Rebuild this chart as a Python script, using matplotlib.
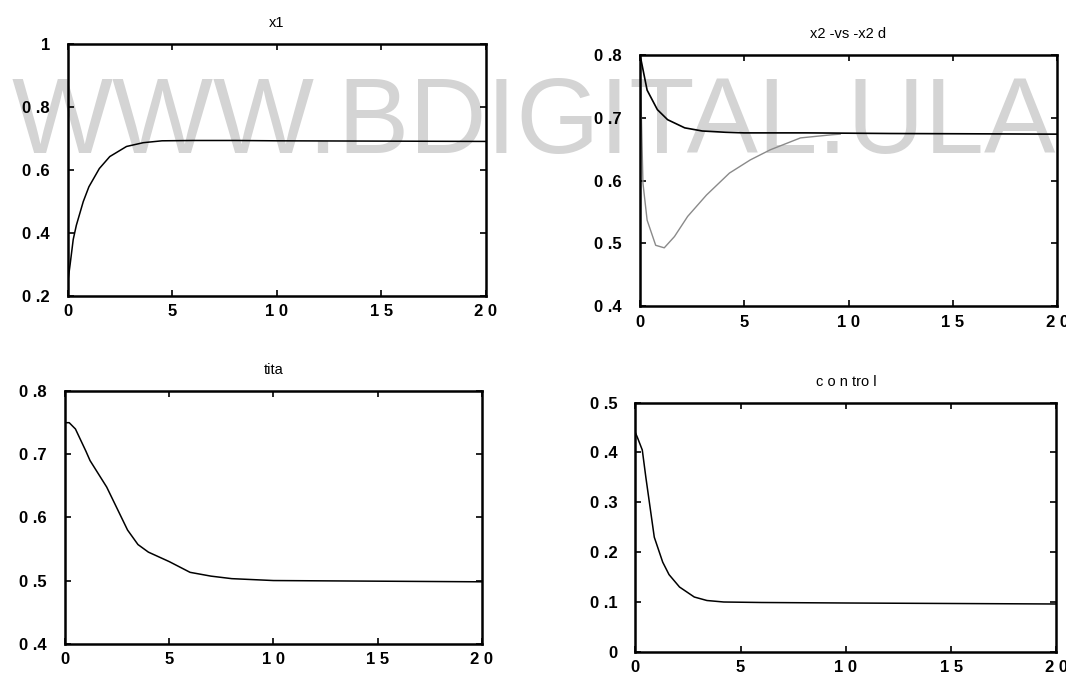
import matplotlib

matplotlib.use("Agg")
import matplotlib.pyplot as plt

# values
t_x1 = [0, 0.1, 0.25, 0.4, 0.73, 1.0, 1.5, 2.0, 2.8, 3.6, 4.5, 6, 8, 10, 15, 20]
x1 = [0.25, 0.30, 0.38, 0.425, 0.50, 0.547, 0.605, 0.643, 0.675, 0.687, 0.693,
      0.694, 0.694, 0.693, 0.692, 0.691]

t_x2d = [0, 0.07, 0.36, 0.85, 1.34, 2.16, 3.0, 4.1, 5, 8, 12, 20]
x2d = [0.80, 0.792, 0.744, 0.713, 0.697, 0.684, 0.679, 0.677, 0.676, 0.676, 0.675, 0.674]

t_x2 = [0, 0.05, 0.16, 0.36, 0.77, 1.18, 1.67, 2.3, 3.2, 4.3, 5.3, 6.25, 7.7, 9.2, 9.6]
x2 = [0.80, 0.75, 0.596, 0.537, 0.497, 0.493, 0.511, 0.543, 0.577, 0.612, 0.633,
      0.649, 0.668, 0.673, 0.674]

t_tita = [0, 0.2, 0.5, 1.0, 1.2, 2.0, 3.0, 3.5, 4.0, 5.0, 6.0, 7.0, 8.0, 10, 15, 20]
tita = [0.75, 0.75, 0.74, 0.705, 0.69, 0.648, 0.58, 0.557, 0.545, 0.53, 0.513,
        0.507, 0.503, 0.50, 0.499, 0.498]

t_u = [0, 0.1, 0.33, 0.5, 0.9, 1.3, 1.6, 2.1, 2.8, 3.4, 4.2, 6, 10, 15, 20]
u = [0.44, 0.43, 0.405, 0.35, 0.23, 0.18, 0.155, 0.13, 0.11, 0.103, 0.10,
     0.099, 0.098, 0.097, 0.096]

x_ticks = [0, 5, 10, 15, 20]
x_labels = ["0", "5", "1 0", "1 5", "2 0"]

FONT = ["Liberation Sans", "DejaVu Sans"]
plt.rcParams["font.family"] = FONT

fig = plt.figure(figsize=(10.66, 6.79), dpi=100)
fig.patch.set_facecolor("white")

# watermark behind the axes
fig.text(0.011, 0.775, "WWW.BDIGITAL.ULA", fontsize=77, color="#d4d4d4",
         ha="left", va="baseline", zorder=-5)


def style(ax, title, yticks, ylabels, ylim):
    ax.set_facecolor("none")
    ax.set_xlim(0, 20)
    ax.set_ylim(*ylim)
    ax.set_xticks(x_ticks)
    ax.set_xticklabels(x_labels)
    ax.set_yticks(yticks)
    ax.set_yticklabels(ylabels)
    ax.tick_params(axis="both", direction="in", length=4, width=1.2,
                   top=True, right=True, labelsize=12)
    ax.tick_params(axis="y", pad=13)
    ax.tick_params(axis="x", pad=6)
    for lab in ax.get_xticklabels() + ax.get_yticklabels():
        lab.set_fontweight("bold")
    for s in ax.spines.values():
        s.set_linewidth(1.8)
    ax.set_title(title, fontsize=10.5, pad=12)


ax1 = fig.add_axes([0.0638, 0.564, 0.392, 0.371])
ax1.plot(t_x1, x1, color="black", lw=1.1)
style(ax1, "x1", [0.2, 0.4, 0.6, 0.8, 1.0], ["0 .2", "0 .4", "0 .6", "0 .8", "1"], (0.2, 1.0))

ax2 = fig.add_axes([0.600, 0.549, 0.392, 0.370])
ax2.plot(t_x2, x2, color="#8a8a8a", lw=1.0)
ax2.plot(t_x2d, x2d, color="black", lw=1.2)
style(ax2, "x2 -vs -x2 d", [0.4, 0.5, 0.6, 0.7, 0.8],
      ["0 .4", "0 .5", "0 .6", "0 .7", "0 .8"], (0.4, 0.8))

ax3 = fig.add_axes([0.061, 0.052, 0.391, 0.372])
ax3.plot(t_tita, tita, color="black", lw=1.1)
style(ax3, "tita", [0.4, 0.5, 0.6, 0.7, 0.8],
      ["0 .4", "0 .5", "0 .6", "0 .7", "0 .8"], (0.4, 0.8))

ax4 = fig.add_axes([0.596, 0.040, 0.395, 0.367])
ax4.plot(t_u, u, color="black", lw=1.1)
style(ax4, "c o n tro l", [0, 0.1, 0.2, 0.3, 0.4, 0.5],
      ["0", "0 .1", "0 .2", "0 .3", "0 .4", "0 .5"], (0, 0.5))

fig.savefig("out.png", dpi=100)
